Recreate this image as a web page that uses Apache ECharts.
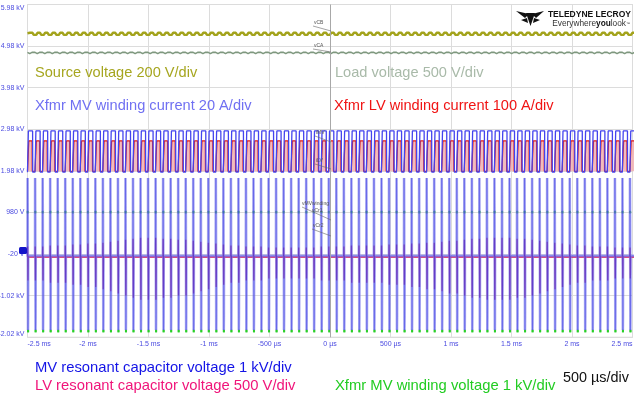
<!DOCTYPE html>
<html><head><meta charset="utf-8">
<script src="https://cdn.jsdelivr.net/npm/echarts@6/dist/echarts.min.js"></script>
<style>html,body{margin:0;padding:0;background:#fff}#c{width:634px;height:396px}</style>
</head><body><div id="c"></div>
<script>
// ---- axis tick labels ----
const xTickLabels = ['-2.5 ms','-2 ms','-1.5 ms','-1 ms','-500 µs','0 µs','500 µs','1 ms','1.5 ms','2 ms','2.5 ms'];
const yTickLabels = ['-2.02 kV','-1.02 kV','-20 V','980 V','1.98 kV','2.98 kV','3.98 kV','4.98 kV','5.98 kV'];
const yBottom = -2.02;           // display kV at the bottom graticule line

// ---- switching timing ----
const firstPulse = -2.438;       // ms, first resonant pulse
const period = 0.06223;          // ms, switching period
const cycles = 80;

// ---- one switching period of each trace: [phase 0..1, display kV] ----
const sourceCycle    = [[0,5.29],[0.17,5.25],[0.33,5.30],[0.5,5.26],[0.67,5.30],[0.83,5.25]];
const loadCycle      = [[0,4.83],[0.3,4.80],[0.6,4.83],[0.8,4.79]];
const mvCurrentCycle = [[0,1.95],[0.10,1.95],[0.12,2.94],[0.68,2.94],[0.70,1.95]];
const lvCurrentCycle = [[0,1.97],[0.15,1.97],[0.17,2.70],[0.62,2.70],[0.64,1.97]];
const mvCapCycle     = [[0,-0.06],[0.015,1.81],[0.035,0.87],[0.05,0.87],[0.07,-1.845],[0.085,-1.51],[0.10,-0.06]];
const lvCapCycle     = [[0,-0.09],[0.025,0.37],[0.06,-1.12],[0.09,-0.09]];
const mvWindingDots  = [[0.025,0.99],[0.04,0.99],[0.075,-1.87],[0.09,-1.87]];
// per-cycle swing of the LV resonant capacitor trace (beat seen on screen)
const lvCapSwing = [
 0.55,0.55,0.6,0.6,0.6,0.65,0.65,0.7,0.7,0.75,
 0.8,0.85,0.9,0.95,1.0,1.0,1.0,0.95,0.95,0.9,
 0.9,0.85,0.8,0.75,0.7,0.65,0.6,0.6,0.55,0.55,
 0.55,0.5,0.5,0.5,0.5,0.5,0.5,0.5,0.55,0.55,
 0.55,0.55,0.6,0.6,0.6,0.6,0.6,0.65,0.65,0.65,
 0.7,0.7,0.75,0.75,0.8,0.85,0.85,0.9,0.95,0.95,
 1.0,1.0,1.0,1.0,0.95,0.95,0.9,0.85,0.8,0.75,
 0.7,0.65,0.6,0.6,0.55,0.55,0.55,0.5,0.5,0.5];

function build(cycle, swing, base) {
  const out = [];
  for (let k = -1; k <= cycles; k++) {
    const t0 = firstPulse + k * period;
    const s = swing ? swing[Math.min(Math.max(k,0), swing.length-1)] : 1;
    for (const [ph, v] of cycle) {
      const val = swing ? base + s * (v - base) : v;
      out.push([t0 + ph * period, val - yBottom]);
    }
  }
  return out;
}

const FONT = 'Liberation Sans, Arial, sans-serif';
const chart = echarts.init(document.getElementById('c'), null, {renderer:'canvas'});

function lineSeries(name, data, color, width, extra) {
  return Object.assign({
    name, type:'line', data, showSymbol:false, symbol:'none', animation:false, silent:true,
    lineStyle:{color, width}, itemStyle:{color}
  }, extra || {});
}

const txt = (x, y, text, color, size, extra) => ({
  type:'text', silent:true, z:100,
  style:Object.assign({x, y, text, fill:color, font:`${size}px ${FONT}`, verticalAlign:'middle', align:'left'}, extra||{})
});
const lead = (x1,y1,x2,y2) => ({type:'line', silent:true, z:100, shape:{x1,y1,x2,y2}, style:{stroke:'#666', lineWidth:0.6}});

chart.setOption({
  animation:false,
  backgroundColor:'#ffffff',
  grid:{left:27.5, right:1.5, top:4.5, bottom:58.7, show:true, borderColor:'#cfcfcf', borderWidth:1,
        containLabel:false, outerBoundsMode:'none'},
  xAxis:{type:'value', min:-2.5, max:2.5, interval:0.5,
    axisLine:{show:false}, axisTick:{show:false},
    splitLine:{show:true, lineStyle:{color:'#dcdcdc', width:1}},
    axisLabel:{color:'#4a4ae0', fontSize:7, fontFamily:FONT, margin:3,
      alignMinLabel:'left', alignMaxLabel:'right',
      formatter:v => xTickLabels[Math.round((v + 2.5) / 0.5)]}},
  yAxis:{type:'value', min:0, max:8, interval:1,
    axisLine:{show:false}, axisTick:{show:false},
    splitLine:{show:true, lineStyle:{color:'#dcdcdc', width:1}},
    axisLabel:{color:'#4a4ae0', fontSize:7, fontFamily:FONT, margin:3,
      verticalAlignMinLabel:'bottom', verticalAlignMaxLabel:'top',
      formatter:v => yTickLabels[Math.round(v)]}},
  series:[
    lineSeries('Source voltage', build(sourceCycle), '#a3a31c', 2.4, {
      markLine:{silent:true, symbol:'none', label:{show:false},
        lineStyle:{color:'#a8a8a8', width:1, type:'solid'}, data:[{xAxis:0}]}}),
    lineSeries('Load voltage', build(loadCycle), '#7f987f', 1.6),
    lineSeries('Xfmr LV winding current', build(lvCurrentCycle), '#e01818', 1.2, {
      areaStyle:{color:'#f0b0b0', opacity:0.85, origin:1.97 - yBottom}}),
    lineSeries('Xfmr MV winding current', build(mvCurrentCycle), '#4444ee', 1.3),
    lineSeries('LV resonant capacitor voltage', build(lvCapCycle, lvCapSwing, -0.09), '#c8105c', 1.4),
    lineSeries('MV resonant capacitor voltage', build(mvCapCycle), 'rgba(125,125,236,0.66)', 2.6),
    lineSeries('MV resonant capacitor voltage (core)', build(mvCapCycle), 'rgba(30,30,225,0.35)', 0.8),
    {name:'Xfmr MV winding voltage', type:'scatter', data:build(mvWindingDots), animation:false, silent:true,
      symbol:'rect', symbolSize:[2,2.5], itemStyle:{color:'#22cc22'}}
  ],
  graphic:[
    txt(35, 73, 'Source voltage 200 V/div', '#a6a620', 14.6),
    txt(335, 73, 'Load voltage 500 V/div', '#a9baa9', 14.6),
    txt(35, 106, 'Xfmr MV winding current 20 A/div', '#7070f2', 14.6),
    txt(334, 106, 'Xfmr LV winding current 100 A/div', '#f01414', 14.6),
    txt(35, 368, 'MV resonant capacitor voltage 1 kV/div', '#1414e6', 14.8),
    txt(35, 386, 'LV resonant capacitor voltage 500 V/div', '#f0147a', 14.8),
    txt(335, 386, 'Xfmr MV winding voltage 1 kV/div', '#22cc22', 14.8),
    txt(563, 378, '500 µs/div', '#111111', 14.4),
    // logo
    {type:'polygon', silent:true, z:100, shape:{points:[[516,11],[529,14],[525,18]]}, style:{fill:'#111'}},
    {type:'polygon', silent:true, z:100, shape:{points:[[544,11],[532,14],[536,18]]}, style:{fill:'#111'}},
    {type:'polygon', silent:true, z:100, shape:{points:[[526,13],[535,13],[530.5,26]]}, style:{fill:'#111'}},
    {type:'polygon', silent:true, z:100, shape:{points:[[521,20],[527,18],[528,23]]}, style:{fill:'#111'}},
    {type:'polygon', silent:true, z:100, shape:{points:[[540,20],[534,18],[533,23]]}, style:{fill:'#111'}},
    txt(631, 15, 'TELEDYNE LECROY', '#111111', 8.5, {font:`bold 8.5px ${FONT}`, align:'right'}),
    {type:'text', silent:true, z:100, style:{x:630, y:24, align:'right', verticalAlign:'middle',
      text:'{a|Everywhere}{b|you}{a|look}{c|™}',
      rich:{a:{fill:'#333', font:`8.3px ${FONT}`}, b:{fill:'#111', font:`bold 8.3px ${FONT}`}, c:{fill:'#333', font:`4px ${FONT}`}}}},
    // channel markers
    {type:'rect', silent:true, z:100, shape:{x:19, y:247, width:8, height:7, r:1.5}, style:{fill:'#1414c8'}},
    txt(314, 23, 'vCB', '#555', 5), lead(313,26,331,31),
    txt(314, 46, 'vCA', '#555', 5), lead(313,49,331,52),
    txt(316, 133, 'iMV', '#555', 5), lead(315,136,331,142),
    txt(316, 161, 'iLV', '#555', 5), lead(315,164,331,169),
    txt(302, 204, 'vMVwinding', '#555', 5), lead(302,207,331,220),
    txt(312, 211, 'vCr1', '#555', 5),
    txt(313, 226, 'vCr2', '#555', 5), lead(312,229,331,236)
  ]
});
</script>
</body></html>
